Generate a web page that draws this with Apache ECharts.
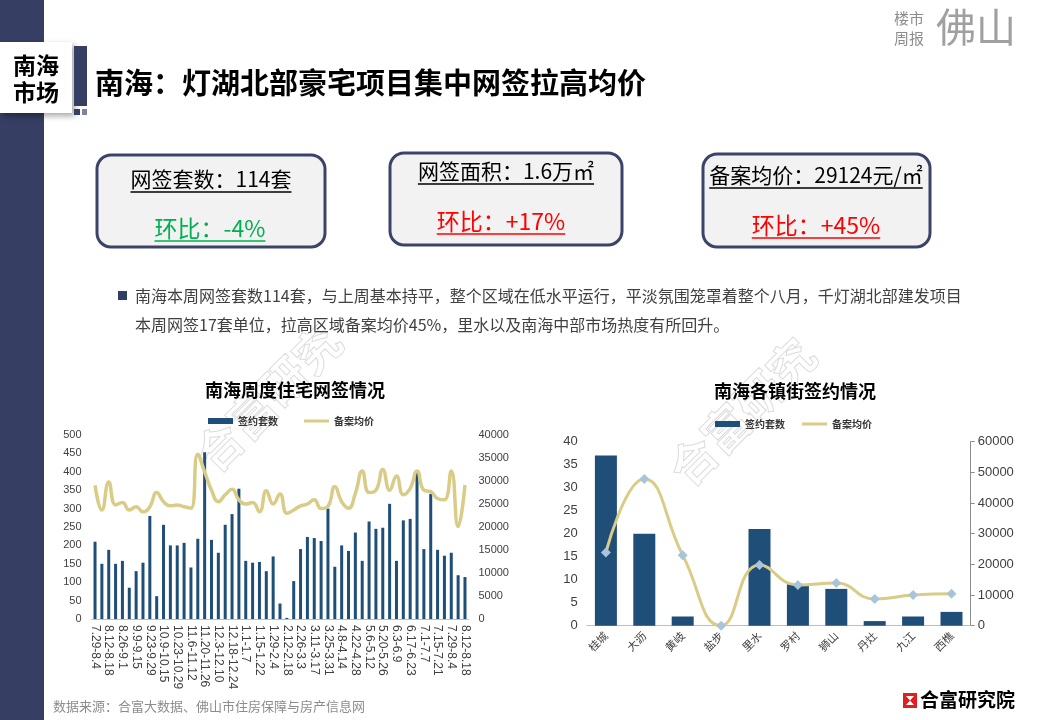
<!DOCTYPE html>
<html>
<head>
<meta charset="utf-8">
<script src="https://cdn.jsdelivr.net/npm/echarts@6/dist/echarts.min.js"></script>
<style>
  html, body { margin: 0; padding: 0; background: #fff; }
  #main { width: 1040px; height: 720px; }
</style>
</head>
<body>
<div id="main"></div>
<script>
// weekly data, 7.29-8.4 (last year) .. 8.12-8.18
const weeks = ['7.29-8.4','8.5-8.11','8.12-8.18','8.19-8.25','8.26-9.1','9.2-9.8','9.9-9.15','9.16-9.22','9.23-9.29','9.30-10.8',
  '10.9-10.15','10.16-10.22','10.23-10.29','10.30-11.5','11.6-11.12','11.13-11.19','11.20-11.26','11.27-12.2','12.3-12.10','12.11-12.17',
  '12.18-12.24','12.25-12.31','1.1-1.7','1.8-1.14','1.15-1.22','1.23-1.28','1.29-2.4','2.5-2.11','2.12-2.18','2.19-2.25',
  '2.26-3.3','3.4-3.10','3.11-3.17','3.18-3.24','3.25-3.31','4.1-4.7','4.8-4.14','4.15-4.21','4.22-4.28','4.29-5.5',
  '5.6-5.12','5.13-5.19','5.20-5.26','5.27-6.2','6.3-6.9','6.10-6.16','6.17-6.23','6.24-6.30','7.1-7.7','7.8-7.14',
  '7.15-7.21','7.22-7.28','7.29-8.4','8.5-8.11','8.12-8.18'];
const weekUnits = [210,150,188,150,158,85,130,153,280,62,
  256,200,200,207,140,218,453,215,180,256,
  285,354,158,153,155,130,170,42,3,103,
  190,223,220,212,300,142,200,185,235,158,
  265,245,248,313,158,268,272,400,190,340,
  188,172,180,119,114];
const weekPrice = [29100,23700,29800,24800,25300,23700,24400,23300,24400,27500,
  25500,24600,24800,24400,24100,35800,32000,28000,25500,27000,
  28200,25900,25000,25300,23300,27900,25000,27200,23000,23700,
  24600,25000,25900,24000,24500,28800,25500,24100,27300,32200,
  27500,28000,32500,28000,31100,27000,28400,32200,28000,27700,
  26200,25900,32200,20100,29124];

// town data for the week
const towns = ['桂城','大沥','黄岐','盐步','里水','罗村','狮山','丹灶','九江','西樵'];
const townUnits = [37,20,2,0,21,9,8,1,2,3];
const townPrice = [23900,47800,23000,0,19800,13300,13900,8700,10000,10400];

const NAVY = '#363e63';
const BAR = '#1f4e79';
const GOLD = '#d9cc86';
const CJK = '"Noto Sans CJK SC"';

const ctx = document.createElement('canvas').getContext('2d');
function textW(txt, font) { ctx.font = font; return ctx.measureText(txt).width; }

function txt(x, y, text, font, fill, align) {
  return { type: 'text', x: x, y: y, z: 10,
    style: { text: text, font: font, fill: fill || '#000',
      align: align || 'center', verticalAlign: 'middle',
      textAlign: align || 'center', textVerticalAlign: 'middle' } };
}
function underlined(cx, cy, text, font, fill) {
  const w = textW(text, font);
  return [txt(cx, cy, text, font, fill),
    { type: 'line', z: 10, shape: { x1: cx - w / 2, y1: cy + 13, x2: cx + w / 2, y2: cy + 13 },
      style: { stroke: fill, lineWidth: 1.5 } }];
}
function box(x, y, w, h) {
  return { type: 'rect', z: 5, shape: { x: x, y: y, width: w, height: h, r: 14 },
    style: { fill: '#f2f2f2', stroke: '#3b4468', lineWidth: 3 } };
}
function watermark(x, y) {
  return { type: 'text', x: x, y: y, rotation: Math.PI / 4, z: 0,
    style: { text: '合富研究', font: 'bold 46px ' + CJK, fill: 'rgba(255,255,255,0)',
      stroke: '#dcdcdc', lineWidth: 1, align: 'center', verticalAlign: 'middle',
      textAlign: 'center', textVerticalAlign: 'middle' } };
}

const boxFont = '21px ' + CJK;
const pctFont = '23px ' + CJK;
const graphics = [
  watermark(268, 398), watermark(742, 412),
  { type: 'rect', z: 1, shape: { x: 0, y: 0, width: 44, height: 720 }, style: { fill: NAVY } },
  { type: 'rect', z: 3, shape: { x: 0, y: 42, width: 72, height: 71 },
    style: { fill: '#fff', shadowBlur: 6, shadowOffsetX: 3, shadowOffsetY: 3, shadowColor: 'rgba(0,0,0,0.35)' } },
  txt(36, 65, '南海', 'bold 23px ' + CJK, '#000'),
  txt(36, 92, '市场', 'bold 23px ' + CJK, '#000'),
  { type: 'rect', z: 3, shape: { x: 74, y: 46, width: 13, height: 60 }, style: { fill: NAVY } },
  { type: 'rect', z: 3, shape: { x: 74, y: 109, width: 6, height: 6 }, style: { fill: NAVY } },
  { type: 'rect', z: 3, shape: { x: 82, y: 109, width: 5, height: 6 }, style: { fill: '#7d84a0' } },
  txt(95, 83, '南海：灯湖北部豪宅项目集中网签拉高均价', 'bold 29px ' + CJK, '#000', 'left'),
  txt(909, 18, '楼市', '15px ' + CJK, '#8c8c8c'),
  txt(909, 38, '周报', '15px ' + CJK, '#8c8c8c'),
  txt(976, 27, '佛山', '40px ' + CJK, '#a0a0a0'),
  box(97, 155, 228, 92), box(390, 153, 232, 92), box(703, 154, 227, 93),
  ...underlined(211, 179, '网签套数：114套', boxFont, '#000'),
  ...underlined(210, 228, '环比：-4%', pctFont, '#00b050'),
  ...underlined(506, 171, '网签面积：1.6万㎡', boxFont, '#000'),
  ...underlined(501, 221, '环比：+17%', pctFont, '#ff0000'),
  ...underlined(816, 175, '备案均价：29124元/㎡', boxFont, '#000'),
  ...underlined(816, 225, '环比：+45%', pctFont, '#ff0000'),
  { type: 'rect', z: 5, shape: { x: 118, y: 291, width: 9, height: 9 }, style: { fill: '#2f3f63' } },
  txt(135, 296, '南海本周网签套数114套，与上周基本持平，整个区域在低水平运行，平淡氛围笼罩着整个八月，千灯湖北部建发项目', '16px ' + CJK, '#404040', 'left'),
  txt(135, 325, '本周网签17套单位，拉高区域备案均价45%，里水以及南海中部市场热度有所回升。', '16px ' + CJK, '#404040', 'left'),
  txt(295, 390, '南海周度住宅网签情况', 'bold 18px ' + CJK, '#000'),
  txt(795, 391, '南海各镇街签约情况', 'bold 18px ' + CJK, '#000'),
  txt(53, 706, '数据来源：合富大数据、佛山市住房保障与房产信息网', '13px ' + CJK, '#8c8c8c', 'left'),
  { type: 'rect', z: 5, shape: { x: 903, y: 693, width: 14, height: 15 }, style: { fill: '#e02020' } },
  { type: 'polygon', z: 6, shape: { points: [[906, 696], [914, 696], [910, 700.5], [914, 705], [906, 705], [910, 700.5]] }, style: { fill: '#fff' } },
  txt(920, 700, '合富研究院', 'bold 19px ' + CJK, '#000', 'left')
];

const axisLabelBase = { color: '#404040', fontFamily: '"Liberation Sans", ' + CJK };
const plain = function (v) { return String(v); };
const legendData = [
  { name: '签约套数', icon: 'rect' },
  { name: '备案均价', icon: 'path://M0,0H25V3H0Z' }
];

const option = {
  animation: false,
  backgroundColor: '#fff',
  textStyle: { fontFamily: '"Liberation Sans", ' + CJK },
  graphic: graphics,
  legend: [
    { left: 203, top: 411, itemWidth: 25, itemHeight: 6, itemGap: 26,
      textStyle: { fontSize: 10, fontWeight: 'bold', color: '#333', fontFamily: CJK },
      data: legendData },
    { left: 710, top: 414, itemWidth: 25, itemHeight: 6, itemGap: 17,
      textStyle: { fontSize: 10, fontWeight: 'bold', color: '#333', fontFamily: CJK },
      data: legendData }
  ],
  grid: [
    { left: 91.6, top: 435, width: 376.8, height: 184 },
    { left: 586.7, top: 441.7, width: 384, height: 184 }
  ],
  xAxis: [
    { type: 'category', gridIndex: 0, data: weeks,
      axisLine: { lineStyle: { color: '#bfbfbf' } }, axisTick: { show: false },
      axisLabel: Object.assign({ interval: 1, rotate: -90, fontSize: 12, margin: 6 }, axisLabelBase) },
    { type: 'category', gridIndex: 1, data: towns,
      axisLine: { lineStyle: { color: '#bfbfbf' } }, axisTick: { show: false },
      axisLabel: Object.assign({ interval: 0, rotate: 45, fontSize: 11, margin: 8 }, axisLabelBase, { fontFamily: CJK }) }
  ],
  yAxis: [
    { type: 'value', gridIndex: 0, min: 0, max: 500, interval: 50, splitLine: { show: false },
      axisLine: { show: false }, axisTick: { show: false },
      axisLabel: Object.assign({ fontSize: 11, margin: 10, formatter: plain }, axisLabelBase) },
    { type: 'value', gridIndex: 0, min: 0, max: 40000, interval: 5000, position: 'right', splitLine: { show: false },
      axisLine: { show: false }, axisTick: { show: false },
      axisLabel: Object.assign({ fontSize: 11, margin: 10, formatter: plain }, axisLabelBase) },
    { type: 'value', gridIndex: 1, min: 0, max: 40, interval: 5, splitLine: { show: false },
      axisLine: { show: false }, axisTick: { show: false },
      axisLabel: Object.assign({ fontSize: 13, margin: 9, formatter: plain }, axisLabelBase) },
    { type: 'value', gridIndex: 1, min: 0, max: 60000, interval: 10000, position: 'right', splitLine: { show: false },
      axisLine: { show: true, lineStyle: { color: '#8c8c8c' } },
      axisTick: { show: true, length: 4, lineStyle: { color: '#8c8c8c' } },
      axisLabel: Object.assign({ fontSize: 13, margin: 7, formatter: plain }, axisLabelBase) }
  ],
  series: [
    { name: '签约套数', type: 'bar', xAxisIndex: 0, yAxisIndex: 0, barWidth: 3,
      itemStyle: { color: BAR }, data: weekUnits, z: 2 },
    { name: '备案均价', type: 'line', xAxisIndex: 0, yAxisIndex: 1, smooth: true, symbol: 'none',
      lineStyle: { width: 3.5, color: GOLD }, itemStyle: { color: GOLD }, data: weekPrice, z: 3 },
    { name: '签约套数', type: 'bar', xAxisIndex: 1, yAxisIndex: 2, barWidth: 22,
      itemStyle: { color: BAR }, data: townUnits, z: 2 },
    { name: '备案均价', type: 'line', xAxisIndex: 1, yAxisIndex: 3, smooth: true, symbol: 'diamond', symbolSize: 10,
      lineStyle: { width: 3, color: GOLD }, itemStyle: { color: '#a9c4da' }, data: townPrice, z: 3 }
  ]
};

const chart = echarts.init(document.getElementById('main'));
chart.setOption(option);
</script>
</body>
</html>
